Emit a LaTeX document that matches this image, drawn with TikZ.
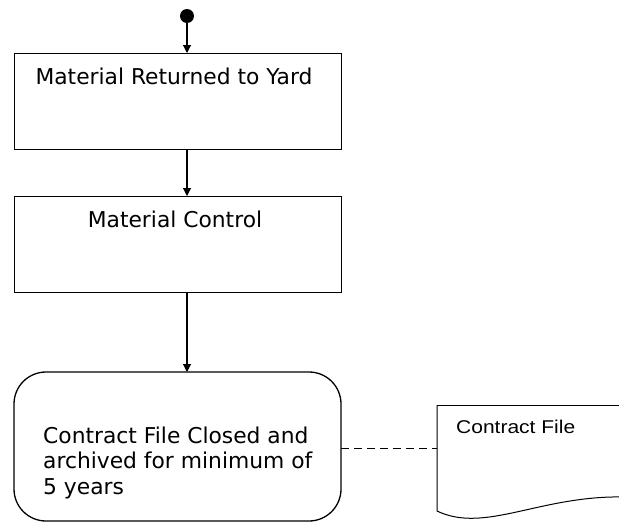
\documentclass[tikz,border=0pt]{standalone}
\usepackage{fontspec}
\setmainfont{DejaVu Sans}
\newfontfamily\arialf{Liberation Sans}
\usetikzlibrary{arrows.meta}
\begin{document}
\begin{tikzpicture}[x=1pt,y=-1pt,
  box/.style={draw,line width=1.3pt,minimum width=327pt,minimum height=96pt,anchor=north west,inner sep=0pt},
  conn/.style={line width=1.1pt,-{Triangle[length=8pt,width=8pt]}},
  lbl/.style={font=\fontsize{21.8}{25.5}\selectfont,inner sep=0pt}]
\useasboundingbox (0,0) rectangle (619,522);
\fill (187,16) circle (7pt);
\coordinate (start) at (187,23);
\node[box] (b1) at (14,53) {};
\node[lbl,anchor=base] at (174,84) {Material Returned to Yard};
\node[box] (b2) at (14,196) {};
\node[lbl,anchor=base] at (175,227) {Material Control};
\draw[line width=1.3pt,rounded corners=32pt] (14,372) rectangle (341,521);
\coordinate (b3) at (187,372);
\node[lbl,anchor=base west,align=left] at (43,494) {Contract File Closed and\\archived for minimum of\\5 years};
\draw[conn] (start) -- (start |- b1.north);
\draw[conn] (start |- b1.south) -- (start |- b2.north);
\draw[conn] (start |- b2.south) -- (b3);
\draw[line width=1pt] (437,405) -- (625,405);
\draw[line width=1pt] (437,405) -- (437,511) .. controls (485,534) and (540,495) .. (625,497);
\draw[line width=1pt,dash pattern=on 8pt off 5pt] (341,448) -- (437,448);
\node[font=\arialf\fontsize{18.5}{20}\selectfont,xscale=1.135,anchor=base west,inner sep=0pt] at (456,433) {Contract File};
\end{tikzpicture}
\end{document}
